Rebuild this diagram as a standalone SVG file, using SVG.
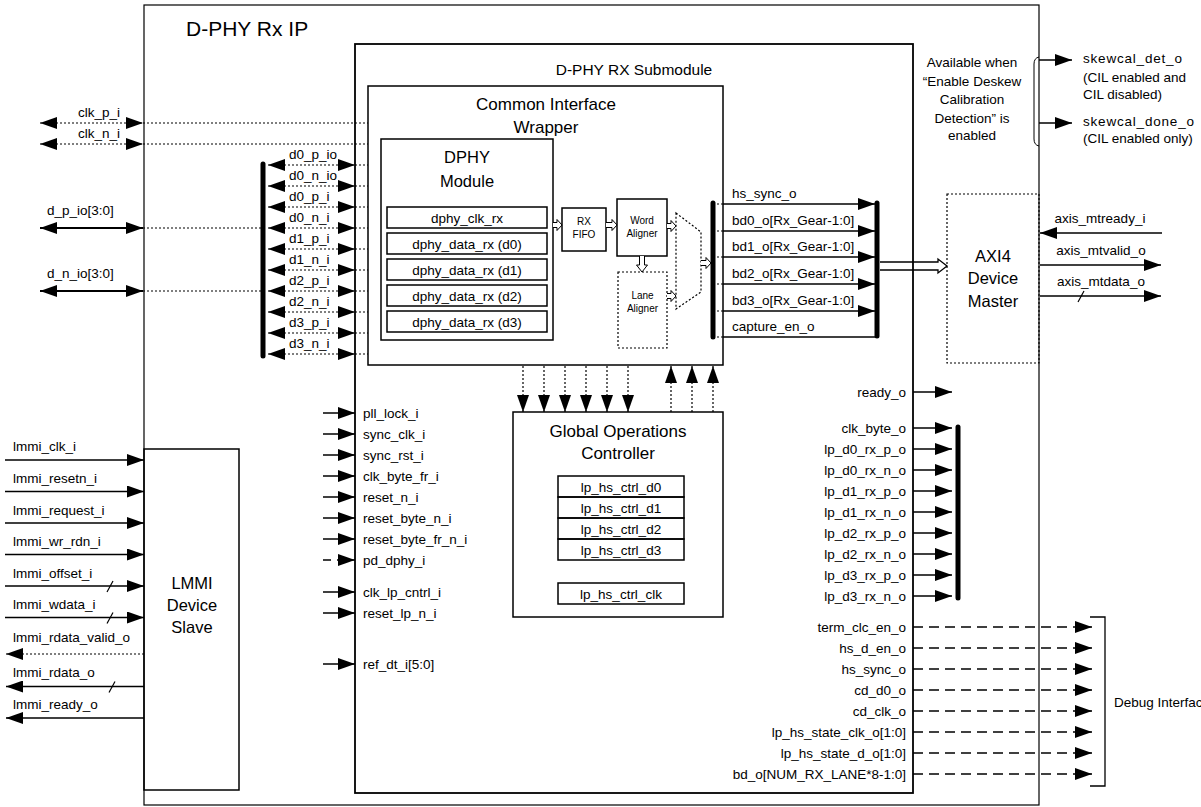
<svg xmlns="http://www.w3.org/2000/svg" width="1201" height="807" viewBox="0 0 1201 807">
<defs>
<style>
text{font-family:"Liberation Sans",Arial,sans-serif;font-size:13.5px;fill:#000}
.m{text-anchor:middle}
.e{text-anchor:end}
.h17{font-size:17px}
.h16{font-size:16.5px}
.s10{font-size:10px}
.ln{stroke:#000;stroke-width:1.5;fill:none}
.dot{stroke:#000;stroke-width:1.2;stroke-dasharray:2 2;fill:none}
.dsh{stroke:#000;stroke-width:1.3;stroke-dasharray:10 6;fill:none}
.box{fill:none;stroke:#000;stroke-width:1.5}
.dbox{fill:none;stroke:#000;stroke-width:1.2;stroke-dasharray:2 2}
.bar{stroke:#000;stroke-width:5;stroke-linecap:round}
.ha{fill:#fff;stroke:#000;stroke-width:1}
.sl{stroke:#000;stroke-width:1.2}
</style>
<marker id="a" viewBox="0 0 17 12" refX="17" refY="6" markerWidth="17" markerHeight="12" markerUnits="userSpaceOnUse" orient="auto-start-reverse"><path d="M0,0 L17,6 L0,12 z" fill="#000"/></marker>
</defs>
<rect width="1201" height="807" fill="#fff"/>

<g id="dphy-rx-ip">
<rect x="144" y="5" width="895" height="800" fill="none" stroke="#000" stroke-width="1.2"/>
<text x="186" y="36" style="font-size:21px">D-PHY Rx IP</text>
</g>

<g id="submodule">
<rect x="355" y="44" width="558" height="749" fill="none" stroke="#000" stroke-width="1.8"/>
<text class="m" x="634" y="75" style="font-size:15.5px">D-PHY RX Submodule</text>
</g>

<g id="ciw">
<rect class="box" x="368" y="86" width="355" height="279"/>
<text class="m h17" x="546" y="110">Common Interface</text>
<text class="m h17" x="546" y="133">Wrapper</text>
</g>

<g id="dphy-module">
<rect class="box" x="381" y="139" width="172" height="201"/>
<text class="m h16" x="467" y="163">DPHY</text>
<text class="m h16" x="467" y="187">Module</text>
<rect class="box" x="387" y="207" width="160" height="21" stroke-width="1.3"/>
<rect class="box" x="387" y="233" width="160" height="21" stroke-width="1.3"/>
<rect class="box" x="387" y="259" width="160" height="21" stroke-width="1.3"/>
<rect class="box" x="387" y="285" width="160" height="21" stroke-width="1.3"/>
<rect class="box" x="387" y="311" width="160" height="21" stroke-width="1.3"/>
<text class="m" x="467" y="222.5">dphy_clk_rx</text>
<text class="m" x="467" y="248.5">dphy_data_rx (d0)</text>
<text class="m" x="467" y="274.5">dphy_data_rx (d1)</text>
<text class="m" x="467" y="300.5">dphy_data_rx (d2)</text>
<text class="m" x="467" y="326.5">dphy_data_rx (d3)</text>
</g>

<g id="rx-fifo">
<rect class="box" x="562" y="208" width="44" height="43" stroke-width="1.3"/>
<text class="m s10" x="584" y="225">RX</text>
<text class="m s10" x="584" y="238">FIFO</text>
</g>

<g id="word-aligner">
<rect class="box" x="617" y="199" width="50" height="57" stroke-width="1.3"/>
<text class="m s10" x="642" y="224">Word</text>
<text class="m s10" x="642" y="237">Aligner</text>
</g>

<g id="lane-aligner">
<rect class="dbox" x="618" y="272" width="49" height="76"/>
<text class="m s10" x="642.5" y="299">Lane</text>
<text class="m s10" x="642.5" y="312">Aligner</text>
</g>

<g id="mux">
<polygon class="dbox" points="676,213 701,232 701,292 676,309"/>
</g>

<g id="goc">
<rect class="box" x="513" y="412" width="210" height="205"/>
<text class="m h17" x="618" y="437">Global Operations</text>
<text class="m h17" x="618" y="459">Controller</text>
<rect class="box" x="558" y="476" width="126" height="21" stroke-width="1.3"/>
<rect class="box" x="558" y="497" width="126" height="21" stroke-width="1.3"/>
<rect class="box" x="558" y="518" width="126" height="21" stroke-width="1.3"/>
<rect class="box" x="558" y="539" width="126" height="21" stroke-width="1.3"/>
<rect class="box" x="558" y="583" width="126" height="21" stroke-width="1.3"/>
<text class="m" x="621" y="491.5">lp_hs_ctrl_d0</text>
<text class="m" x="621" y="512.5">lp_hs_ctrl_d1</text>
<text class="m" x="621" y="533.5">lp_hs_ctrl_d2</text>
<text class="m" x="621" y="554.5">lp_hs_ctrl_d3</text>
<text class="m" x="621" y="598.5">lp_hs_ctrl_clk</text>
</g>

<g id="axi4">
<rect class="dbox" x="947" y="194" width="92" height="169"/>
<text class="m h16" x="993" y="262">AXI4</text>
<text class="m h16" x="993" y="284">Device</text>
<text class="m h16" x="993" y="307">Master</text>
</g>

<g id="lmmi">
<rect class="box" x="144" y="449" width="95" height="341"/>
<text class="m h16" x="192" y="589">LMMI</text>
<text class="m h16" x="192" y="611">Device</text>
<text class="m h16" x="192" y="633">Slave</text>
</g>

<g id="connectors">
<!-- clk pins -->
<line class="dot" x1="40" y1="123" x2="143" y2="123" marker-start="url(#a)" marker-end="url(#a)"/>
<line class="dot" x1="143" y1="123" x2="368" y2="123"/>
<line class="dot" x1="40" y1="144" x2="143" y2="144" marker-start="url(#a)" marker-end="url(#a)"/>
<line class="dot" x1="143" y1="144" x2="368" y2="144"/>
<text class="m" x="99" y="117">clk_p_i</text>
<text class="m" x="99" y="138">clk_n_i</text>
<!-- d buses -->
<line stroke="#000" stroke-width="2" x1="40" y1="228" x2="143" y2="228" marker-start="url(#a)" marker-end="url(#a)"/>
<line class="dot" x1="143" y1="228" x2="262" y2="228"/>
<line stroke="#000" stroke-width="2" x1="40" y1="291" x2="143" y2="291" marker-start="url(#a)" marker-end="url(#a)"/>
<line class="dot" x1="143" y1="291" x2="262" y2="291"/>
<text x="47" y="215">d_p_io[3:0]</text>
<text x="47" y="278">d_n_io[3:0]</text>
<line class="bar" x1="263" y1="164" x2="263" y2="356"/>
<g>
<line class="dot" x1="268" y1="165" x2="355" y2="165" marker-start="url(#a)" marker-end="url(#a)"/>
<line class="dot" x1="268" y1="186" x2="355" y2="186" marker-start="url(#a)" marker-end="url(#a)"/>
<line class="dot" x1="268" y1="207" x2="355" y2="207" marker-start="url(#a)" marker-end="url(#a)"/>
<line class="dot" x1="268" y1="228" x2="355" y2="228" marker-start="url(#a)" marker-end="url(#a)"/>
<line class="dot" x1="268" y1="249" x2="355" y2="249" marker-start="url(#a)" marker-end="url(#a)"/>
<line class="dot" x1="268" y1="270" x2="355" y2="270" marker-start="url(#a)" marker-end="url(#a)"/>
<line class="dot" x1="268" y1="291" x2="355" y2="291" marker-start="url(#a)" marker-end="url(#a)"/>
<line class="dot" x1="268" y1="312" x2="355" y2="312" marker-start="url(#a)" marker-end="url(#a)"/>
<line class="dot" x1="268" y1="333" x2="355" y2="333" marker-start="url(#a)" marker-end="url(#a)"/>
<line class="dot" x1="268" y1="354" x2="355" y2="354" marker-start="url(#a)" marker-end="url(#a)"/>
<path class="dot" d="M355,165H368M355,186H368M355,207H368M355,228H368M355,249H368M355,270H368M355,291H368M355,312H368M355,333H368M355,354H368"/>
</g>
<text x="289" y="159">d0_p_io</text>
<text x="289" y="180">d0_n_io</text>
<text x="289" y="201">d0_p_i</text>
<text x="289" y="222">d0_n_i</text>
<text x="289" y="243">d1_p_i</text>
<text x="289" y="264">d1_n_i</text>
<text x="289" y="285">d2_p_i</text>
<text x="289" y="306">d2_n_i</text>
<text x="289" y="327">d3_p_i</text>
<text x="289" y="348">d3_n_i</text>

<!-- hollow arrows inside wrapper -->
<path class="ha" d="M553,222.5H557V219.5L562,225L557,230.5V227.5H553"/>
<path class="ha" d="M606,222.5H612V219.5L617,225L612,230.5V227.5H606"/>
<path class="ha" d="M667,223.5H671V220.5L676,226L671,231.5V228.5H667"/>
<path class="ha" d="M639.5,256V265H636.5L642,272L647.5,265H644.5V256"/>
<path class="ha" d="M667,293.5H671V290.5L676,296L671,301.5V298.5H667"/>
<path class="ha" d="M701,260.5H706V257.5L711,263L706,268.5V265.5H701"/>

<!-- wrapper outputs -->
<line class="bar" x1="713" y1="203" x2="713" y2="337"/>
<path class="dot" d="M713,204H723M713,231H723M713,257H723M713,284H723M713,311H723M713,337H723"/>
<line class="ln" x1="723" y1="204" x2="875" y2="204" marker-end="url(#a)"/>
<line class="ln" x1="723" y1="231" x2="875" y2="231" marker-end="url(#a)"/>
<line class="ln" x1="723" y1="257" x2="875" y2="257" marker-end="url(#a)"/>
<line class="ln" x1="723" y1="284" x2="875" y2="284" marker-end="url(#a)"/>
<line class="ln" x1="723" y1="311" x2="875" y2="311" marker-end="url(#a)"/>
<line class="ln" x1="723" y1="337" x2="875" y2="337"/>
<text x="732" y="198">hs_sync_o</text>
<text x="732" y="225">bd0_o[Rx_Gear-1:0]</text>
<text x="732" y="251">bd1_o[Rx_Gear-1:0]</text>
<text x="732" y="278">bd2_o[Rx_Gear-1:0]</text>
<text x="732" y="305">bd3_o[Rx_Gear-1:0]</text>
<text x="732" y="331">capture_en_o</text>
<line class="bar" x1="877" y1="203" x2="877" y2="336"/>
<path fill="none" stroke="#000" stroke-width="1.3" d="M880,262H938V259L947,266L938,273V270H880"/>

<!-- wrapper <-> GOC -->
<line class="dot" x1="523" y1="366" x2="523" y2="412" marker-end="url(#a)"/>
<line class="dot" x1="544" y1="366" x2="544" y2="412" marker-end="url(#a)"/>
<line class="dot" x1="565" y1="366" x2="565" y2="412" marker-end="url(#a)"/>
<line class="dot" x1="586" y1="366" x2="586" y2="412" marker-end="url(#a)"/>
<line class="dot" x1="607" y1="366" x2="607" y2="412" marker-end="url(#a)"/>
<line class="dot" x1="628" y1="366" x2="628" y2="412" marker-end="url(#a)"/>
<line class="dot" x1="671" y1="412" x2="671" y2="366" marker-end="url(#a)"/>
<line class="dot" x1="692" y1="412" x2="692" y2="366" marker-end="url(#a)"/>
<line class="dot" x1="713" y1="412" x2="713" y2="366" marker-end="url(#a)"/>

<!-- AXI signals -->
<line class="ln" x1="1162" y1="233" x2="1040" y2="233" marker-end="url(#a)"/>
<line class="ln" x1="1040" y1="265" x2="1161" y2="265" marker-end="url(#a)"/>
<line class="ln" x1="1040" y1="296" x2="1161" y2="296" marker-end="url(#a)"/>
<line class="sl" x1="1078" y1="302" x2="1084" y2="291"/>
<text class="m" x="1100" y="223">axis_mtready_i</text>
<text class="m" x="1101" y="255">axis_mtvalid_o</text>
<text class="m" x="1101" y="286">axis_mtdata_o</text>

<!-- skewcal -->
<path fill="none" stroke="#000" stroke-width="1" d="M1039,57Q1034,58 1034,64V139Q1034,145 1039,146"/>
<line class="ln" x1="1039" y1="60" x2="1072" y2="60" marker-end="url(#a)"/>
<line class="ln" x1="1039" y1="123" x2="1072" y2="123" marker-end="url(#a)"/>
<text x="1083" y="63" style="letter-spacing:0.8px">skewcal_det_o</text>
<text x="1083" y="82">(CIL enabled and</text>
<text x="1083" y="99">CIL disabled)</text>
<text x="1083" y="126" style="letter-spacing:0.8px">skewcal_done_o</text>
<text x="1083" y="143">(CIL enabled only)</text>
<text class="m" x="972" y="67">Available when</text>
<text class="m" x="972" y="86">“Enable Deskew</text>
<text class="m" x="972" y="104">Calibration</text>
<text class="m" x="972" y="123">Detection” is</text>
<text class="m" x="972" y="140">enabled</text>

<!-- middle inputs -->
<line class="ln" x1="323" y1="413" x2="355" y2="413" marker-end="url(#a)"/>
<line class="ln" x1="323" y1="434" x2="355" y2="434" marker-end="url(#a)"/>
<line class="ln" x1="323" y1="455" x2="355" y2="455" marker-end="url(#a)"/>
<line class="ln" x1="323" y1="476" x2="355" y2="476" marker-end="url(#a)"/>
<line class="ln" x1="323" y1="497" x2="355" y2="497" marker-end="url(#a)"/>
<line class="ln" x1="323" y1="518" x2="355" y2="518" marker-end="url(#a)"/>
<line class="ln" x1="323" y1="539" x2="355" y2="539" marker-end="url(#a)"/>
<line class="ln" x1="323" y1="560" x2="355" y2="560" stroke-dasharray="8 6" marker-end="url(#a)"/>
<line class="ln" x1="323" y1="592" x2="355" y2="592" marker-end="url(#a)"/>
<line class="ln" x1="323" y1="613" x2="355" y2="613" marker-end="url(#a)"/>
<line class="ln" x1="323" y1="664" x2="355" y2="664" marker-end="url(#a)"/>
<text x="363" y="418">pll_lock_i</text>
<text x="363" y="439">sync_clk_i</text>
<text x="363" y="460">sync_rst_i</text>
<text x="363" y="481">clk_byte_fr_i</text>
<text x="363" y="502">reset_n_i</text>
<text x="363" y="523">reset_byte_n_i</text>
<text x="363" y="544">reset_byte_fr_n_i</text>
<text x="363" y="565">pd_dphy_i</text>
<text x="363" y="597">clk_lp_cntrl_i</text>
<text x="363" y="618">reset_lp_n_i</text>
<text x="363" y="669">ref_dt_i[5:0]</text>

<!-- right outputs -->
<line class="ln" x1="913" y1="392" x2="952" y2="392" marker-end="url(#a)"/>
<line class="ln" x1="913" y1="428" x2="952" y2="428" marker-end="url(#a)"/>
<line class="ln" x1="913" y1="449" x2="952" y2="449" marker-end="url(#a)"/>
<line class="ln" x1="913" y1="470" x2="952" y2="470" marker-end="url(#a)"/>
<line class="ln" x1="913" y1="491" x2="952" y2="491" marker-end="url(#a)"/>
<line class="ln" x1="913" y1="512" x2="952" y2="512" marker-end="url(#a)"/>
<line class="ln" x1="913" y1="533" x2="952" y2="533" marker-end="url(#a)"/>
<line class="ln" x1="913" y1="554" x2="952" y2="554" marker-end="url(#a)"/>
<line class="ln" x1="913" y1="575" x2="952" y2="575" marker-end="url(#a)"/>
<line class="ln" x1="913" y1="596" x2="952" y2="596" marker-end="url(#a)"/>
<line class="bar" x1="958" y1="427" x2="958" y2="598"/>
<text class="e" x="906" y="397">ready_o</text>
<text class="e" x="906" y="433">clk_byte_o</text>
<text class="e" x="906" y="454">lp_d0_rx_p_o</text>
<text class="e" x="906" y="475">lp_d0_rx_n_o</text>
<text class="e" x="906" y="496">lp_d1_rx_p_o</text>
<text class="e" x="906" y="517">lp_d1_rx_n_o</text>
<text class="e" x="906" y="538">lp_d2_rx_p_o</text>
<text class="e" x="906" y="559">lp_d2_rx_n_o</text>
<text class="e" x="906" y="580">lp_d3_rx_p_o</text>
<text class="e" x="906" y="601">lp_d3_rx_n_o</text>

<!-- debug -->
<line class="dsh" x1="913" y1="627" x2="1092" y2="627" marker-end="url(#a)"/>
<line class="dsh" x1="913" y1="648" x2="1092" y2="648" marker-end="url(#a)"/>
<line class="dsh" x1="913" y1="669" x2="1092" y2="669" marker-end="url(#a)"/>
<line class="dsh" x1="913" y1="690" x2="1092" y2="690" marker-end="url(#a)"/>
<line class="dsh" x1="913" y1="711" x2="1092" y2="711" marker-end="url(#a)"/>
<line class="dsh" x1="913" y1="732" x2="1092" y2="732" marker-end="url(#a)"/>
<line class="dsh" x1="913" y1="753" x2="1092" y2="753" marker-end="url(#a)"/>
<line class="dsh" x1="913" y1="774" x2="1092" y2="774" marker-end="url(#a)"/>
<text class="e" x="906" y="632">term_clc_en_o</text>
<text class="e" x="906" y="653">hs_d_en_o</text>
<text class="e" x="906" y="674">hs_sync_o</text>
<text class="e" x="906" y="695">cd_d0_o</text>
<text class="e" x="906" y="716">cd_clk_o</text>
<text class="e" x="906" y="737">lp_hs_state_clk_o[1:0]</text>
<text class="e" x="906" y="758">lp_hs_state_d_o[1:0]</text>
<text class="e" x="906" y="779">bd_o[NUM_RX_LANE*8-1:0]</text>
<path fill="none" stroke="#000" stroke-width="1.3" d="M1090,617H1105V786H1090"/>
<text x="1114" y="707">Debug Interface</text>

<!-- LMMI -->
<line class="ln" x1="5" y1="460" x2="144" y2="460" marker-end="url(#a)"/>
<line class="ln" x1="5" y1="491.5" x2="144" y2="491.5" marker-end="url(#a)"/>
<line class="ln" x1="5" y1="523" x2="144" y2="523" marker-end="url(#a)"/>
<line class="ln" x1="5" y1="554.5" x2="144" y2="554.5" marker-end="url(#a)"/>
<line class="ln" x1="5" y1="586" x2="144" y2="586" marker-end="url(#a)"/>
<line class="ln" x1="5" y1="617.5" x2="144" y2="617.5" marker-end="url(#a)"/>
<line class="dot" x1="144" y1="654" x2="6" y2="654" marker-end="url(#a)"/>
<line class="ln" x1="144" y1="686.5" x2="6" y2="686.5" marker-end="url(#a)"/>
<line class="ln" x1="144" y1="718" x2="6" y2="718" marker-end="url(#a)"/>
<line class="sl" x1="107" y1="592" x2="113" y2="581"/>
<line class="sl" x1="107" y1="623.5" x2="113" y2="612.5"/>
<line class="sl" x1="109" y1="692.5" x2="115" y2="681.5"/>
<text x="13" y="451">lmmi_clk_i</text>
<text x="13" y="483">lmmi_resetn_i</text>
<text x="13" y="514.5">lmmi_request_i</text>
<text x="13" y="546">lmmi_wr_rdn_i</text>
<text x="13" y="577.5">lmmi_offset_i</text>
<text x="13" y="609">lmmi_wdata_i</text>
<text x="13" y="642">lmmi_rdata_valid_o</text>
<text x="13" y="677">lmmi_rdata_o</text>
<text x="13" y="709">lmmi_ready_o</text>
</g>
</svg>
